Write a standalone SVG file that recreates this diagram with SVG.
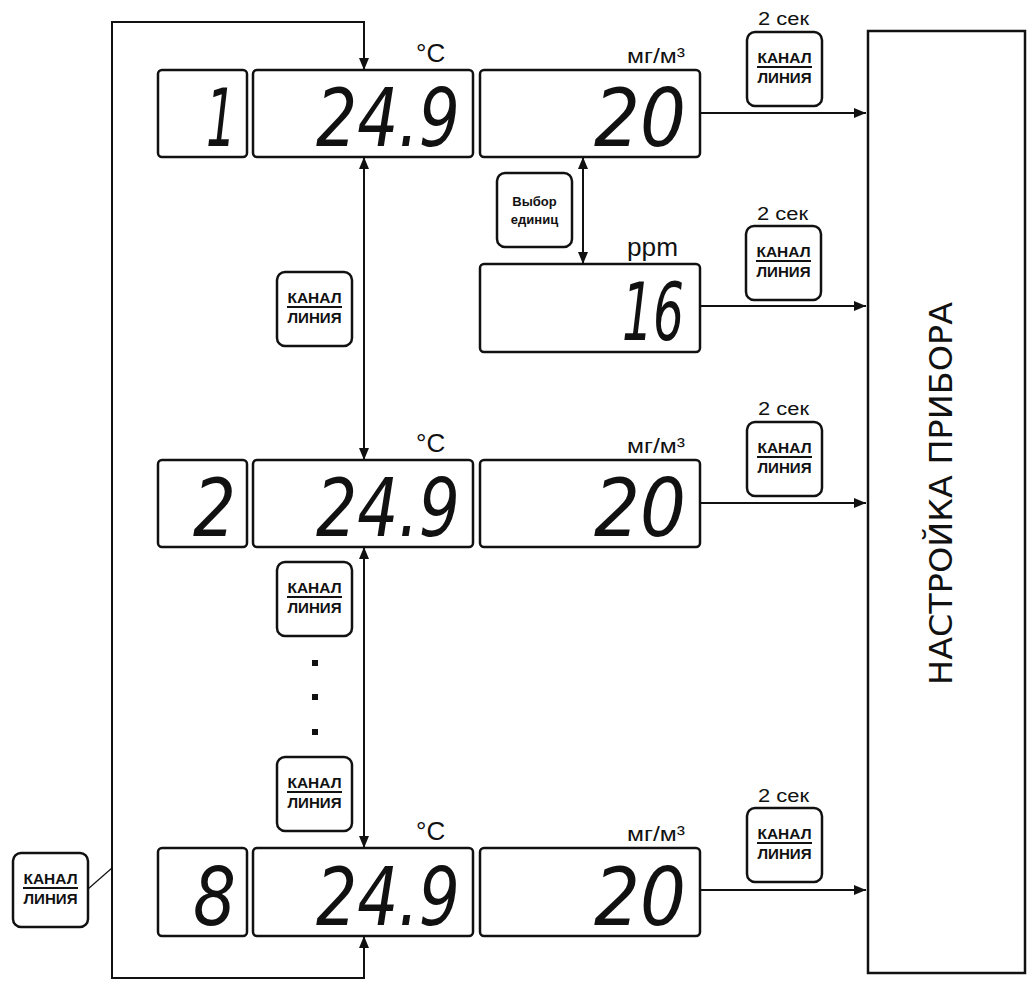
<svg xmlns="http://www.w3.org/2000/svg" width="1027" height="983" viewBox="0 0 1027 983">
<style>
.box{fill:#fff;stroke:#111;stroke-width:2.5}
.btn{fill:#fff;stroke:#111;stroke-width:2.5}
.ln{fill:none;stroke:#111;stroke-width:2}
.dg{font-family:"DejaVu Sans",sans-serif;font-style:italic;font-size:80px;fill:#111}
.bt{font-family:"Liberation Sans",Arial,sans-serif;font-weight:bold;font-size:14px;fill:#111;text-anchor:middle}
.bu{font-family:"Liberation Sans",Arial,sans-serif;font-weight:bold;font-size:13px;fill:#111;text-anchor:middle}
.lb{font-family:"Liberation Sans",Arial,sans-serif;font-size:20px;fill:#111}
.deg{font-family:"Liberation Sans",Arial,sans-serif;font-size:26px;fill:#111}
.sec{font-family:"Liberation Sans",Arial,sans-serif;font-size:18px;fill:#111}
.ppm{font-family:"Liberation Sans",Arial,sans-serif;font-size:25px;fill:#111}
.big{font-family:"DejaVu Sans",sans-serif;font-size:32px;fill:#111}
</style>
<defs>
<marker id="ah" viewBox="0 0 12 10" refX="12" refY="5" markerWidth="12" markerHeight="10" markerUnits="userSpaceOnUse" orient="auto-start-reverse">
<path d="M0,0 L12,5 L0,10 z" fill="#111"/>
</marker>
<g id="kl">
<rect class="btn" x="0" y="0" width="75" height="74" rx="8"/>
<text class="bt" x="37.5" y="31" textLength="54" lengthAdjust="spacingAndGlyphs">КАНАЛ</text>
<line x1="10" y1="35" x2="65" y2="35" stroke="#111" stroke-width="2"/>
<text class="bt" x="37.5" y="51" textLength="54" lengthAdjust="spacingAndGlyphs">ЛИНИЯ</text>
</g>
</defs>

<g id="connectors">
<path class="ln" d="M364,936 V978 H112 V22 H364 V70" marker-start="url(#ah)" marker-end="url(#ah)"/>
<line class="ln" x1="364" y1="157" x2="364" y2="460" marker-start="url(#ah)" marker-end="url(#ah)"/>
<line class="ln" x1="364" y1="547" x2="364" y2="848" marker-start="url(#ah)" marker-end="url(#ah)"/>
<line class="ln" x1="583" y1="157" x2="583" y2="264" marker-start="url(#ah)" marker-end="url(#ah)"/>
<line class="ln" x1="700" y1="113" x2="866" y2="113" marker-end="url(#ah)"/>
<line class="ln" x1="700" y1="306" x2="866" y2="306" marker-end="url(#ah)"/>
<line class="ln" x1="700" y1="503" x2="866" y2="503" marker-end="url(#ah)"/>
<line class="ln" x1="700" y1="890" x2="866" y2="890" marker-end="url(#ah)"/>
<line x1="88" y1="889" x2="112" y2="868" stroke="#111" stroke-width="1.2"/>
</g>

<g id="row1">
<rect class="box" x="158" y="70" width="89" height="87" rx="4"/>
<text class="dg" x="206" y="146" textLength="30" lengthAdjust="spacingAndGlyphs">1</text>
<rect class="box" x="253" y="70" width="220" height="87" rx="4"/>
<text class="dg" x="316" y="146" textLength="144" lengthAdjust="spacingAndGlyphs">24.9</text>
<rect class="box" x="480" y="70" width="220" height="87" rx="4"/>
<text class="dg" x="594" y="146" textLength="92" lengthAdjust="spacingAndGlyphs">20</text>
<text class="deg" x="416" y="62">°C</text>
<text class="lb" x="627" y="63" textLength="58" lengthAdjust="spacingAndGlyphs">мг/м³</text>
</g>
<g id="row1-btn">
<text class="sec" x="758" y="25" textLength="51" lengthAdjust="spacingAndGlyphs">2 сек</text>
<use href="#kl" x="747" y="32"/>
</g>

<g id="ppm">
<rect class="box" x="480" y="264" width="220" height="88" rx="4"/>
<text class="dg" x="622" y="340" textLength="62" lengthAdjust="spacingAndGlyphs">16</text>
<text class="ppm" x="627" y="256" textLength="51" lengthAdjust="spacingAndGlyphs">ppm</text>
</g>
<g id="units-btn">
<rect class="btn" x="497" y="173" width="75" height="74" rx="8"/>
<text class="bu" x="534.5" y="206">Выбор</text>
<text class="bu" x="534.5" y="224">единиц</text>
</g>
<g id="ppm-btn">
<text class="sec" x="757" y="220" textLength="51" lengthAdjust="spacingAndGlyphs">2 сек</text>
<use href="#kl" x="746" y="226"/>
</g>

<g id="btn-a"><use href="#kl" x="277" y="272"/></g>

<g id="row2">
<rect class="box" x="158" y="460" width="89" height="87" rx="4"/>
<text class="dg" x="193" y="536" textLength="43" lengthAdjust="spacingAndGlyphs">2</text>
<rect class="box" x="253" y="460" width="220" height="87" rx="4"/>
<text class="dg" x="316" y="536" textLength="144" lengthAdjust="spacingAndGlyphs">24.9</text>
<rect class="box" x="480" y="460" width="220" height="87" rx="4"/>
<text class="dg" x="594" y="536" textLength="92" lengthAdjust="spacingAndGlyphs">20</text>
<text class="deg" x="416" y="452">°C</text>
<text class="lb" x="627" y="453" textLength="58" lengthAdjust="spacingAndGlyphs">мг/м³</text>
</g>
<g id="row2-btn">
<text class="sec" x="758" y="415" textLength="51" lengthAdjust="spacingAndGlyphs">2 сек</text>
<use href="#kl" x="747" y="422"/>
</g>

<g id="btn-b"><use href="#kl" x="277" y="562"/></g>
<g id="dots">
<rect x="312" y="660" width="6" height="6" fill="#111"/>
<rect x="312" y="694" width="6" height="6" fill="#111"/>
<rect x="312" y="729" width="6" height="6" fill="#111"/>
</g>
<g id="btn-c"><use href="#kl" x="277" y="757"/></g>

<g id="row8">
<rect class="box" x="158" y="848" width="89" height="88" rx="4"/>
<text class="dg" x="193" y="925" textLength="43" lengthAdjust="spacingAndGlyphs">8</text>
<rect class="box" x="253" y="848" width="220" height="88" rx="4"/>
<text class="dg" x="316" y="925" textLength="144" lengthAdjust="spacingAndGlyphs">24.9</text>
<rect class="box" x="480" y="848" width="220" height="88" rx="4"/>
<text class="dg" x="594" y="925" textLength="92" lengthAdjust="spacingAndGlyphs">20</text>
<text class="deg" x="416" y="840">°C</text>
<text class="lb" x="627" y="841" textLength="58" lengthAdjust="spacingAndGlyphs">мг/м³</text>
</g>
<g id="row8-btn">
<text class="sec" x="758" y="802" textLength="51" lengthAdjust="spacingAndGlyphs">2 сек</text>
<use href="#kl" x="747" y="808"/>
</g>

<g id="btn-left"><use href="#kl" x="13" y="853"/></g>

<g id="settings">
<rect class="box" x="868" y="31" width="157" height="942" stroke-width="3"/>
<text class="big" transform="translate(952,685) rotate(-90)" textLength="383" lengthAdjust="spacingAndGlyphs">НАСТРОЙКА ПРИБОРА</text>
</g>
</svg>
